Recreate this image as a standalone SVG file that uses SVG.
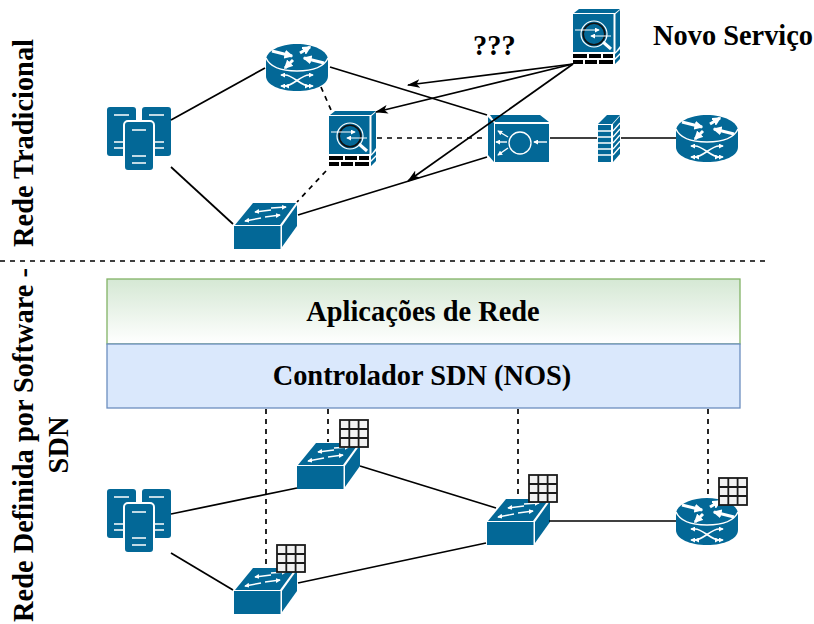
<svg xmlns="http://www.w3.org/2000/svg" width="814" height="624" viewBox="0 0 814 624">
<style>
.t{font-family:"Liberation Serif","Times New Roman",serif;font-weight:bold;fill:#000;font-size:28.4px}
.l{fill:none;stroke:#000;stroke-width:1.7}
.d{fill:none;stroke:#000;stroke-width:1.7;stroke-dasharray:5 5}
.b{fill:#036897}
.w{fill:none;stroke:#fff;stroke-width:1.5}
.wa{fill:none;stroke:#fff;stroke-width:1.4;marker-end:url(#wh)}
.wb{fill:none;stroke:#fff;stroke-width:3;marker-end:url(#wh2)}
.g{fill:#f2f2f2;stroke:#1a1a1a;stroke-width:1.8}
</style>
<defs>
<marker id="ar" viewBox="0 0 12 8" refX="11" refY="4" markerWidth="13" markerHeight="9" markerUnits="userSpaceOnUse" orient="auto"><path d="M0,0 L12,4 L0,8 L3,4Z" fill="#000"/></marker>
<marker id="wh" viewBox="0 0 6 6" refX="5" refY="3" markerWidth="5" markerHeight="5" markerUnits="userSpaceOnUse" orient="auto"><path d="M0,0 L6,3 L0,6Z" fill="#fff"/></marker>
<marker id="wh2" viewBox="0 0 6 6" refX="5" refY="3" markerWidth="9" markerHeight="9" markerUnits="userSpaceOnUse" orient="auto"><path d="M0,0 L6,3 L0,6Z" fill="#fff"/></marker>
<linearGradient id="gg" x1="0" y1="0" x2="0" y2="1"><stop offset="0" stop-color="#d5e8d4"/><stop offset="1" stop-color="#ffffff"/></linearGradient>
<symbol id="router" width="63" height="48" viewBox="0 0 63 48" overflow="visible">
<path class="b" d="M0,16 C0,7 14,0 31,0 S62,7 62,16 V32 C62,41 48,47 31,47 S0,41 0,32Z"/>
<path class="w" d="M0,14 C4,23 16,27 31,27 S58,23 62,14"/>
<path class="wb" d="M6,7 L26,12"/><path class="wb" d="M27,16 L19,24"/><path class="wb" d="M34,9 L44,3"/><path class="wb" d="M58,19 L38,14"/>
<path class="wa" style="stroke-width:1.6" d="M19,31 C27,31 35,42 43,42"/><path class="wa" style="stroke-width:1.6" d="M43,31 C35,31 27,42 19,42"/>
<path class="wa" d="M19,31 L15,31"/><path class="wa" d="M43,31 L47,31"/><path class="wa" d="M19,42 L15,42"/><path class="wa" d="M43,42 L47,42"/>
</symbol>
<symbol id="switch" width="63" height="47" viewBox="0 0 63 47" overflow="visible">
<path class="b" d="M1,23 L19,1 L62,1 L46,23Z"/>
<path class="b" d="M0,24 H46.5 V47 H0Z"/>
<path class="b" d="M48,24 L63,3 V24 L48,45Z"/>
<path class="wa" d="M37,6 L52,5"/><path class="wa" d="M37,8 L21,10"/><path class="wa" d="M31,15 L46,13"/><path class="wa" d="M27,16 L11,19"/>
</symbol>
<symbol id="server" width="64" height="64" viewBox="0 0 64 64" overflow="visible">
<rect class="b" x="0" y="0" width="29" height="49" rx="3"/><rect class="b" x="35" y="0" width="29" height="49" rx="3"/>
<path class="w" d="M7,8 H22 M42,8 H57 M7,35 H22 M7,41 H22 M42,35 H57 M42,41 H57"/>
<rect class="b" x="17" y="14" width="30" height="50" rx="4" stroke="#fff" stroke-width="2"/>
<path class="w" d="M25,23 H39 M25,49 H39 M25,56 H39"/>
</symbol>
<symbol id="ips" width="48" height="56" viewBox="0 0 48 56" overflow="visible">
<path class="b" d="M1,4 L6,0 H47 L42,4Z"/>
<rect class="b" x="0" y="5" width="40.5" height="38"/>
<path class="b" d="M42.5,5 L47,1 V37 L42.5,43Z"/>
<path fill="#000" d="M0,45 H14 V49 H0Z M16,45 H28 V49 H16Z M30,45 H40 V49 H30Z M0,51 H10 V55 H0Z M12,51 H24 V55 H12Z M26,51 H40 V55 H26Z"/>
<path fill="#036897" d="M42,45 L47,40 V44 L42,49Z M42,51 L47,46 V50 L42,55Z"/>
<circle cx="21" cy="25" r="13" fill="#036897" stroke="#fff" stroke-width="1.2"/>
<circle cx="21" cy="25" r="10.8" fill="none" stroke="#111" stroke-width="1.6"/>
<path d="M30,33 L38,40" stroke="#fff" stroke-width="3"/>
<path class="wa" style="stroke-width:1" d="M2,21 H26"/><path class="wa" style="stroke-width:1" d="M38,27 H18"/>
</symbol>
<symbol id="grid" width="30" height="29" viewBox="0 0 30 29" overflow="visible">
<rect class="g" x="1" y="1" width="28" height="27"/>
<path class="g" d="M10.3,1 V28 M19.6,1 V28 M1,10 H29 M1,19 H29"/>
</symbol>
</defs>
<g id="server-top"><use href="#server" x="107" y="107"/></g>
<g id="router-top"><use href="#router" x="266" y="44"/></g>
<g id="switch-top"><use href="#switch" x="234" y="202"/></g>
<g id="ips-top"><use href="#ips" x="329" y="111"/></g>
<g id="ips-new"><use href="#ips" x="573" y="9"/></g>
<g id="concentrator">
<path class="b" d="M490,115 H540 L549,122 H495Z"/>
<path class="b" d="M488,117 L494,123 V162 L488,155Z"/>
<rect class="b" x="495" y="124" width="54" height="38"/>
<circle cx="520" cy="143" r="11" fill="none" stroke="#fff" stroke-width="1.3"/>
<path class="wa" d="M547,142 L534,142"/><path class="wa" d="M508,137 L498,131"/><path class="wa" d="M507,142 L496,142"/><path class="wa" d="M508,148 L498,155"/>
</g>
<g id="firewall">
<path class="b" d="M598,124 L607,115 H620 L612,124Z"/>
<path class="b" d="M598,125 H611 V162 H598Z"/>
<path class="b" d="M613,124 L620,116 V154 L613,162Z"/>
<path stroke="#fff" stroke-width="1.3" fill="none" d="M598,131 H611 M598,137 H611 M598,143 H611 M598,149 H611 M598,155 H611 M613,131 L620,123 M613,137 L620,129 M613,143 L620,135 M613,149 L620,141 M613,155 L620,147"/>
</g>
<g id="router-right"><use href="#router" x="676" y="115"/></g>
<g id="apps"><rect x="107" y="279" width="633" height="65" fill="url(#gg)" stroke="#82b366" stroke-width="1.3"/>
<text class="t" x="423" y="321" text-anchor="middle">Aplicações de Rede</text></g>
<g id="controller"><rect x="107" y="344" width="633" height="64" fill="#dae8fc" stroke="#6c8ebf" stroke-width="1.3"/>
<text class="t" x="422" y="385" text-anchor="middle">Controlador SDN (NOS)</text></g>
<g id="server-bot"><use href="#server" x="107" y="489"/></g>
<g id="switch-a"><use href="#switch" x="297" y="442"/><use href="#grid" x="339" y="419"/></g>
<g id="switch-b"><use href="#switch" x="234" y="567"/><use href="#grid" x="276" y="544"/></g>
<g id="switch-c"><use href="#switch" x="487" y="498"/><use href="#grid" x="528" y="474"/></g>
<g id="router-bot"><use href="#router" x="676" y="498"/><use href="#grid" x="718" y="477"/></g>
<g id="connectors">
<path class="l" d="M171,120 L265,68"/><path class="l" d="M171,167 L233,224"/>
<path class="l" d="M330,67 L487,115"/><path class="l" d="M298,215 L487,157"/>
<path class="d" d="M321,87 L331,110"/><path class="d" d="M326,171 L297,202"/>
<path class="d" d="M377,138 L487,138"/>
<path class="l" d="M550,138 H597"/><path class="l" d="M621,138 H676"/>
<path class="l" marker-end="url(#ar)" d="M573,64 L408,85"/>
<path class="l" marker-end="url(#ar)" d="M573,64 L376,112"/>
<path class="l" marker-end="url(#ar)" d="M573,64 L408,181"/>
<path class="l" d="M171,514 L297,488"/><path class="l" d="M171,553 L233,590"/>
<path class="l" d="M360,466 L496,508"/><path class="l" d="M298,583 L486,543"/>
<path class="l" d="M549,521 H676"/>
<path class="d" d="M266,409 V567"/><path class="d" d="M328,409 V442"/><path class="d" d="M518,409 V497"/><path class="d" d="M708,409 V497"/>
<path class="d" d="M0,261 H770"/>
</g>
<g id="labels">
<text class="t" x="653" y="45">Novo Serviço</text>
<text class="t" x="473" y="55">???</text>
<text class="t" text-anchor="middle" transform="translate(33,143) rotate(-90)">Rede Tradicional</text>
<text class="t" text-anchor="middle" transform="translate(33,445) rotate(-90)">Rede Definida por Software -</text>
<text class="t" text-anchor="middle" transform="translate(68,445) rotate(-90)">SDN</text>
</g>
</svg>
